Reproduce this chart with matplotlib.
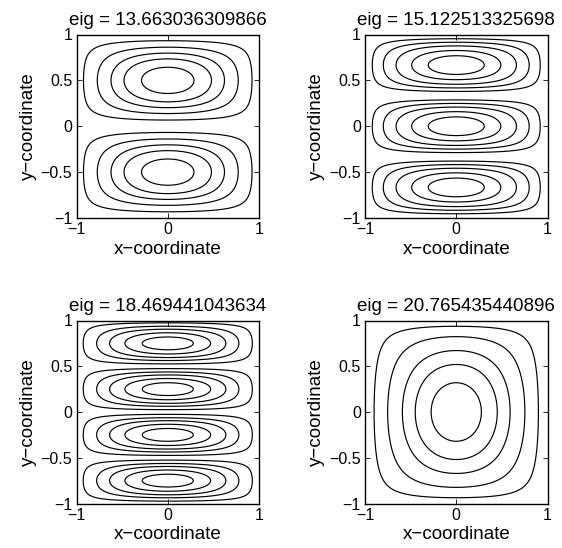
import numpy as np
import matplotlib
matplotlib.use("Agg")
import matplotlib.pyplot as plt

plt.rcParams['font.family'] = ['Liberation Sans', 'DejaVu Sans']

# ---- data ----
eig_values = ["13.663036309866", "15.122513325698", "18.469441043634", "20.765435440896"]
lobes_in_y = [2, 3, 4, 1]                      # number of cells stacked vertically
contour_levels = [
    [0.12, 0.35, 0.56, 0.73, 0.90],
    [0.125, 0.31, 0.51, 0.72, 0.886],
    [0.115, 0.34, 0.54, 0.74, 0.905],
    [0.156, 0.38, 0.60, 0.761, 0.908],
]
# shape parameters of the vertical profile of each mode
prof_lin = [1.0, 1.0, 1.0, 0.86]
prof_bump = [0.9, 0.9, 0.5, 0.0]
xtick_values = [-1, 0, 1]
xtick_labels = ["\u22121", "0", "1"]
ytick_values = [-1, -0.5, 0, 0.5, 1]
ytick_labels = ["\u22121", "\u22120.5", "0", "0.5", "1"]
xlabel_text = "x\u2212coordinate"
ylabel_text = "y\u2212coordinate"

# ---- figure ----
W, H = 562, 548
fig = plt.figure(figsize=(W / 100, H / 100), dpi=100)

boxes = [  # left, top, right, bottom in pixels
    (76.5, 34.5, 259, 218),
    (365, 34.5, 547.5, 218),
    (76.5, 320.5, 259, 503.5),
    (365, 320.5, 547.5, 503.5),
]

n = 500
xs = np.linspace(-1, 1, n)
ys = np.linspace(-1, 1, n)
X, Y = np.meshgrid(xs, ys)


def mode_field(k):
    m = lobes_in_y[k]
    w = 2.0 / m
    t = (Y + 1) / w
    s = np.abs(2 * (t - np.floor(t)) - 1)  # local coordinate in cell, 0 centre, 1 edge
    s = np.clip(s, 0, 1)
    a = prof_lin[k]
    psi = a * s + (1 - a) * s ** 6 + prof_bump[k] * s ** 5 * (1 - s)
    gy = np.cos(np.pi / 2 * np.clip(psi, 0, 1))
    gx = np.cos(np.pi / 2 * X)
    return np.abs(gx * gy)


for k, (l, t, r, b) in enumerate(boxes):
    ax = fig.add_axes([l / W, 1 - b / H, (r - l) / W, (b - t) / H])
    Z = mode_field(k)
    ax.contour(X, Y, Z, levels=contour_levels[k], colors='black', linewidths=0.85)
    ax.set_xlim(-1, 1)
    ax.set_ylim(-1, 1)
    ax.set_xticks(xtick_values)
    ax.set_yticks(ytick_values)
    ax.set_xticklabels(xtick_labels)
    ax.set_yticklabels(ytick_labels)
    ax.tick_params(direction='in', length=3.5, width=0.6, top=True, right=True,
                   labelsize=11.5, pad=3, colors='black')
    for sp in ax.spines.values():
        sp.set_linewidth(1.0)
    ax.set_xlabel(xlabel_text, fontsize=13.5, labelpad=2.5)
    ax.set_ylabel(ylabel_text, fontsize=13.5, labelpad=3)
    ax.set_title("eig = " + eig_values[k], fontsize=13.5, pad=7)

fig.savefig("out.png", dpi=100)
